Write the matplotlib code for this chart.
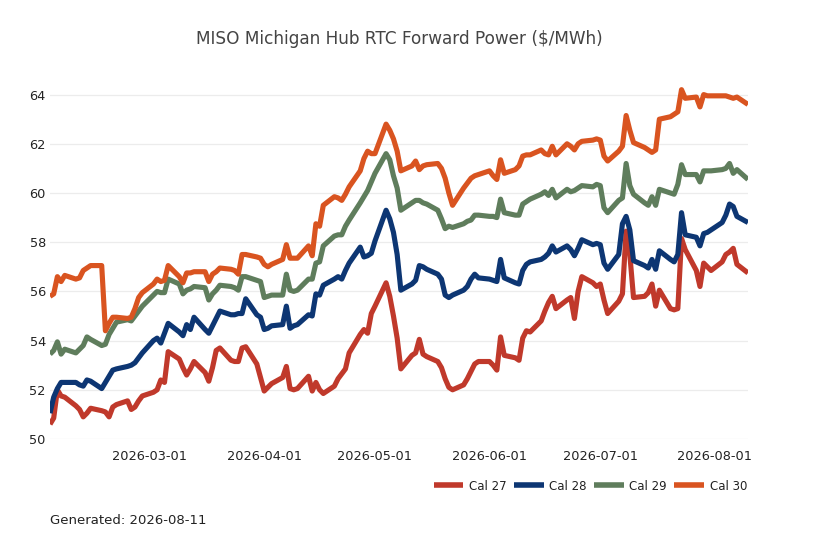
import matplotlib
matplotlib.use("Agg")
import matplotlib.pyplot as plt
import matplotlib.dates as mdates
import pandas as pd

dates = pd.bdate_range("2026-02-02", "2026-08-10")

cal27 = [
    50.6, 50.85, 52.0, 51.75, 51.7,
    51.35, 51.2, 50.9, 51.05, 51.25,
    51.15, 51.1, 50.9, 51.3, 51.4,
    51.55, 51.2, 51.3, 51.55, 51.75,
    51.9, 52.0, 52.4, 52.3, 53.55,
    53.25, 52.9, 52.6, 52.85, 53.15,
    52.7, 52.35, 52.9, 53.6, 53.7,
    53.2, 53.15, 53.15, 53.7, 53.75,
    53.05, 52.5, 51.95, 52.1, 52.25,
    52.5, 52.95, 52.05, 52.0, 52.05,
    52.55, 51.95, 52.3, 52.0, 51.85,
    52.15, 52.45, 52.65, 52.85, 53.5,
    54.25, 54.45, 54.3, 55.1, 55.4,
    56.35, 55.8, 55.0, 54.1, 52.85,
    53.4, 53.5, 54.05, 53.45, 53.35,
    53.15, 52.9, 52.45, 52.1, 52.0,
    52.2, 52.45, 52.75, 53.05, 53.15,
    53.15, 53.0, 52.8, 54.15, 53.4,
    53.3, 53.2, 54.1, 54.4, 54.35,
    54.8, 55.2, 55.55, 55.8, 55.3,
    55.65, 55.75, 54.9, 56.0, 56.6,
    56.35, 56.2, 56.3, 55.65, 55.1,
    55.6, 55.9, 58.45, 57.5, 55.75,
    55.8, 55.95, 56.3, 55.4, 56.05,
    55.3, 55.25, 55.3, 58.15, 57.7,
    56.85, 56.2, 57.15, 57.0, 56.85,
    57.2, 57.5, 57.6, 57.75, 57.1,
    56.75,
]

cal28 = [
    51.05, 51.7, 52.05, 52.3, 52.3,
    52.3, 52.2, 52.15, 52.4, 52.35,
    52.05, 52.3, 52.55, 52.8, 52.85,
    52.95, 53.0, 53.1, 53.3, 53.5,
    54.0, 54.1, 53.9, 54.3, 54.7,
    54.35, 54.2, 54.65, 54.45, 54.95,
    54.45, 54.3, 54.6, 54.9, 55.2,
    55.05, 55.05, 55.1, 55.1, 55.7,
    55.05, 54.95, 54.45, 54.5, 54.6,
    54.65, 55.4, 54.5, 54.6, 54.65,
    55.05, 55.0, 55.9, 55.85, 56.25,
    56.5, 56.6, 56.5, 56.85, 57.15,
    57.8, 57.4, 57.45, 57.55, 58.05,
    59.3, 58.95, 58.4, 57.5, 56.05,
    56.3, 56.45, 57.05, 57.0, 56.9,
    56.7, 56.5, 55.85, 55.75, 55.85,
    56.05, 56.2, 56.5, 56.7, 56.55,
    56.5, 56.45, 56.4, 57.3, 56.55,
    56.35, 56.3, 56.85, 57.1, 57.2,
    57.3, 57.4, 57.55, 57.85, 57.6,
    57.85, 57.7, 57.45, 57.75, 58.1,
    57.9, 57.95, 57.9, 57.15, 56.9,
    57.5, 58.75, 59.05, 58.5, 57.25,
    57.05, 56.95, 57.3, 56.9, 57.65,
    57.3, 57.2, 57.5, 59.2, 58.3,
    58.2, 57.85, 58.35, 58.4, 58.5,
    58.8, 59.1, 59.55, 59.45, 59.05,
    58.8,
]

cal29 = [
    53.45, 53.6, 53.95, 53.45, 53.65,
    53.5, 53.65, 53.8, 54.15, 54.05,
    53.8, 53.85, 54.25, 54.5, 54.75,
    54.85, 54.8, 55.0, 55.2, 55.4,
    55.85, 56.0, 55.95, 55.95, 56.5,
    56.3, 55.9, 56.05, 56.1, 56.2,
    56.15, 55.65, 55.9, 56.05, 56.25,
    56.2, 56.15, 56.05, 56.6, 56.6,
    56.45, 56.4, 55.75, 55.8, 55.85,
    55.85, 56.7, 56.05, 56.0, 56.05,
    56.5, 56.5, 57.15, 57.2, 57.85,
    58.25, 58.3, 58.3, 58.65, 58.9,
    59.6, 59.85, 60.1, 60.45, 60.8,
    61.6, 61.35, 60.7, 60.2, 59.3,
    59.6, 59.7, 59.7, 59.6, 59.55,
    59.3, 58.95, 58.55, 58.65, 58.6,
    58.75, 58.85, 58.9, 59.1, 59.1,
    59.05, 59.05, 59.0, 59.75, 59.2,
    59.1, 59.1, 59.55, 59.65, 59.75,
    59.95, 60.05, 59.9, 60.15, 59.8,
    60.15, 60.05, 60.1, 60.2, 60.3,
    60.25, 60.35, 60.3, 59.4, 59.2,
    59.7, 59.8, 61.2, 60.3, 59.95,
    59.6, 59.5, 59.85, 59.5, 60.15,
    60.0, 59.95, 60.35, 61.15, 60.75,
    60.75, 60.45, 60.9, 60.9, 60.9,
    60.95, 61.0, 61.2, 60.8, 60.95,
    60.55,
]

cal30 = [
    55.8, 55.9, 56.6, 56.4, 56.65,
    56.5, 56.55, 56.85, 56.95, 57.05,
    57.05, 54.4, 54.7, 54.95, 54.95,
    54.9, 54.95, 55.3, 55.75, 55.95,
    56.3, 56.5, 56.4, 56.45, 57.05,
    56.6, 56.35, 56.75, 56.75, 56.8,
    56.8, 56.4, 56.7, 56.8, 56.95,
    56.9, 56.85, 56.7, 57.5, 57.5,
    57.4, 57.35, 57.1, 57.0, 57.1,
    57.3, 57.9, 57.35, 57.35, 57.35,
    57.85, 57.45, 58.75, 58.65, 59.5,
    59.85, 59.8, 59.7, 59.95, 60.25,
    60.9, 61.4, 61.7, 61.6, 61.6,
    62.8, 62.55, 62.2, 61.7, 60.9,
    61.1, 61.3, 60.95, 61.1, 61.15,
    61.2, 61.0, 60.6, 60.0, 59.5,
    60.2, 60.4, 60.6, 60.7, 60.75,
    60.9, 60.7, 60.55, 61.35, 60.8,
    60.95, 61.1, 61.5, 61.55, 61.55,
    61.75, 61.6, 61.55, 61.9, 61.55,
    62.0, 61.9, 61.75, 62.0, 62.1,
    62.15, 62.2, 62.15, 61.5, 61.3,
    61.7, 61.9, 63.15, 62.55, 62.05,
    61.85, 61.75, 61.65, 61.75, 63.0,
    63.1, 63.2, 63.3, 64.2, 63.85,
    63.9, 63.5, 64.0, 63.95, 63.95,
    63.95, 63.95, 63.9, 63.85, 63.9,
    63.6,
]

series_names = ["Cal 27", "Cal 28", "Cal 29", "Cal 30"]
series_values = [cal27, cal28, cal29, cal30]
colors = ["#c0392b", "#0d3673", "#5f7d5c", "#d95420"]

title = "MISO Michigan Hub RTC Forward Power (\\$/MWh)"
footer = "Generated: 2026-08-11"
yticks = [50, 52, 54, 56, 58, 60, 62, 64]
xtick_dates = ["2026-03-01", "2026-04-01", "2026-05-01", "2026-06-01", "2026-07-01", "2026-08-01"]

fig = plt.figure(figsize=(8.18, 5.45), dpi=100)
ax = fig.add_axes([50 / 818, 1 - 439 / 545, 698 / 818, (439 - 70) / 545])

for name, vals, c in zip(series_names, series_values, colors):
    ax.plot(dates, vals, color=c, linewidth=3.7, label=name,
            solid_joinstyle="round", solid_capstyle="butt")

ax.set_xlim(dates[0], dates[-1])
ax.set_ylim(50, 65)
ax.set_yticks(yticks)
ax.set_xticks(pd.to_datetime(xtick_dates))
ax.xaxis.set_major_formatter(mdates.DateFormatter("%Y-%m-%d"))

for s in ax.spines.values():
    s.set_visible(False)
ax.grid(axis="y", color="#ececec", linewidth=0.9)
ax.grid(axis="x", visible=False)
ax.set_axisbelow(True)
ax.tick_params(axis="both", length=0, labelsize=9.3, colors="#222222")
ax.tick_params(axis="y", pad=3)
ax.tick_params(axis="x", pad=8)

fig.text(399 / 818, 1 - 39 / 545, title, ha="center", va="center",
         fontsize=12.2, color="#444444")

leg = fig.legend(loc="center right", bbox_to_anchor=(747 / 818, 1 - 486 / 545),
                 ncol=4, frameon=False, fontsize=8.5, borderpad=0, borderaxespad=0,
                 handlelength=2.5, handletextpad=0.5, columnspacing=0.6)
for line in leg.get_lines():
    line.set_linewidth(4.0)
for t in leg.get_texts():
    t.set_color("#222222")

fig.text(50 / 818, 1 - 520 / 545, footer, ha="left", va="center",
         fontsize=9.5, color="#222222")

fig.savefig("out.png", dpi=100)
